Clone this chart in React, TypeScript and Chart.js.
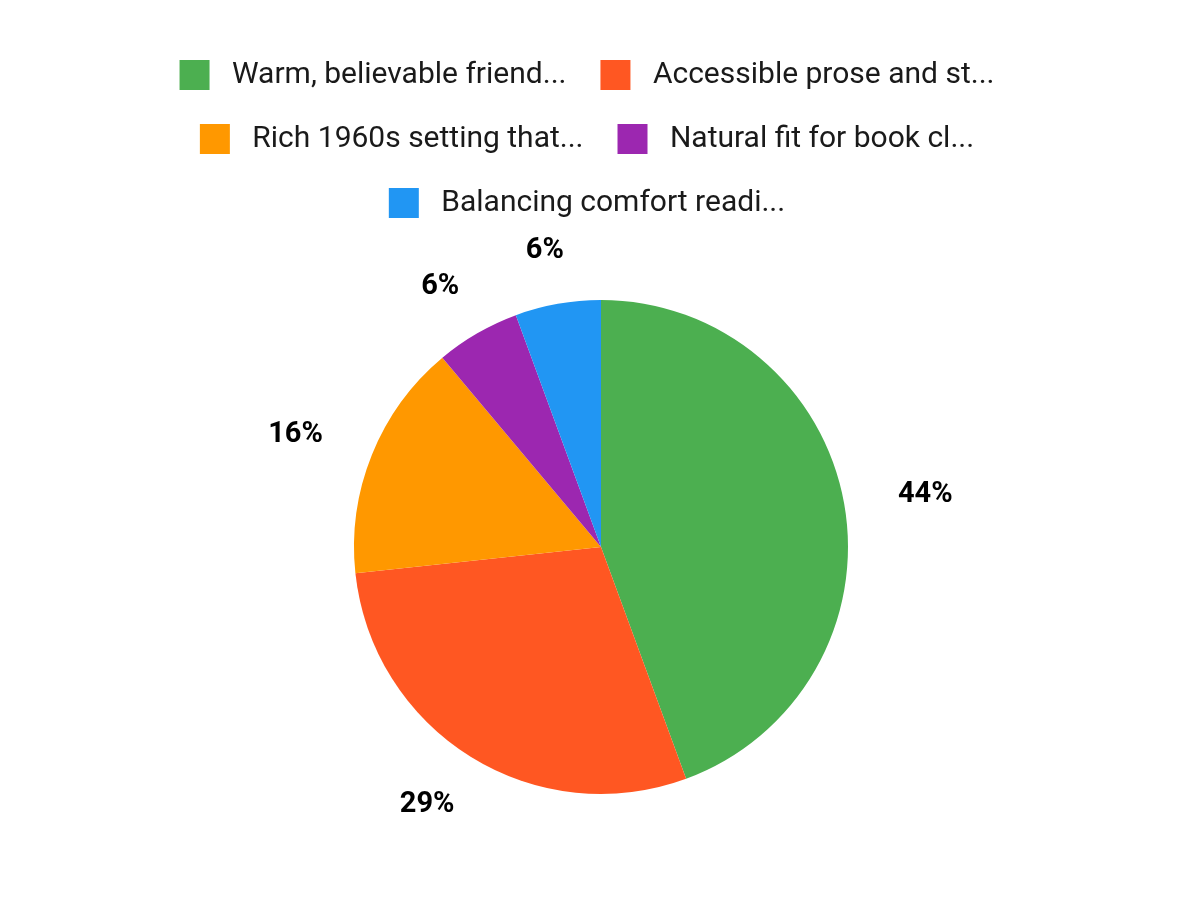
import React, { useEffect, useRef } from "react";
import { Chart, registerables } from "chart.js";

Chart.register(...registerables);

const categories = [
  "Warm, believable friend...",
  "Accessible prose and st...",
  "Rich 1960s setting that...",
  "Natural fit for book cl...",
  "Balancing comfort readi...",
];
const values = [44.4, 28.9, 15.6, 5.5, 5.6];
const colors = ["#4CAF50", "#FF5722", "#FF9800", "#9C27B0", "#2196F3"];

const outsideLabels = {
  id: "outsideLabels",
  afterDatasetsDraw(chart: any) {
    const ctx = chart.ctx;
    const meta = chart.getDatasetMeta(0);
    const data = chart.data.datasets[0].data as number[];
    const total = data.reduce((a: number, b: number) => a + b, 0);
    ctx.save();
    ctx.font = "bold 29px Roboto";
    ctx.fillStyle = "#000000";
    ctx.textAlign = "center";
    ctx.textBaseline = "middle";
    meta.data.forEach((arc: any, i: number) => {
      const p = arc.getProps(["x", "y", "startAngle", "endAngle", "outerRadius"], true);
      const mid = (p.startAngle + p.endAngle) / 2;
      const text = Math.round((data[i] / total) * 100) + "%";
      const w = ctx.measureText(text).width;
      const R = p.outerRadius + 55;
      const dx = Math.cos(mid);
      const dy = Math.sin(mid);
      ctx.fillText(text, p.x + R * dx + (dx * w) / 2, p.y + R * dy + 1);
    });
    ctx.restore();
  },
};

const legendShift = {
  id: "legendShift",
  afterLayout(chart: any) {
    const lg = chart.legend;
    if (lg) {
      lg.left -= 14;
      lg.right -= 14;
    }
  },
};

export default function App() {
  const ref = useRef<HTMLCanvasElement | null>(null);
  useEffect(() => {
    if (!ref.current) return;
    const baseGen = (Chart as any).overrides.pie.plugins.legend.labels.generateLabels;
    const chart = new Chart(ref.current, {
      type: "pie",
      data: {
        labels: categories,
        datasets: [
          {
            data: values,
            backgroundColor: colors,
            borderWidth: 0,
            radius: 247,
          } as any,
        ],
      },
      options: {
        animation: false,
        responsive: true,
        maintainAspectRatio: false,
        layout: { padding: { top: 18, bottom: 26, left: 2, right: 0 } },
        plugins: {
          legend: {
            position: "top",
            labels: {
              boxWidth: 30,
              boxHeight: 30,
              padding: 34,
              color: "#1a1a1a",
              font: { family: "Roboto", size: 30 },
              generateLabels: (c: any) =>
                baseGen(c).map((l: any) => ({ ...l, text: " " + l.text })),
            },
          },
          tooltip: { enabled: false },
        },
      },
      plugins: [outsideLabels, legendShift],
    });
    return () => chart.destroy();
  }, []);
  return (
    <div style={{ position: "relative", width: "1184px", height: "884px" }}>
      <canvas ref={ref} />
    </div>
  );
}
